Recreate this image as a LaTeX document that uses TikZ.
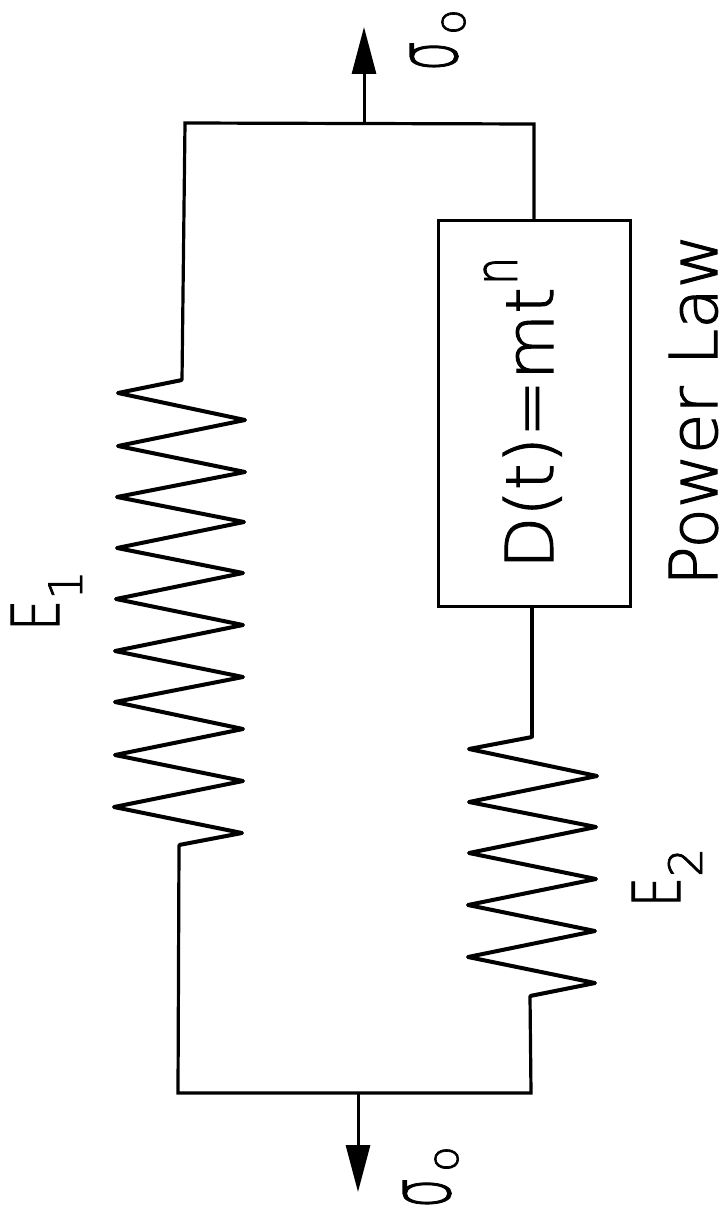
\documentclass[tikz,border=0pt]{standalone}
\usepackage{fontspec}
\setmainfont[FakeBold=1.6]{DejaVu Sans ExtraLight}
\usetikzlibrary{arrows.meta}
\tikzset{
  wire/.style={line width=3.2pt,line cap=round,line join=miter},
  coil/.style={line width=4pt,line join=round},
  load/.style={line width=3pt,-{Triangle[length=47pt,width=24pt]}},
  label/.style={rotate=90,anchor=base west,inner sep=0pt,outer sep=0pt,font=\fontsize{66}{66}\selectfont},
  stress/.style={rotate=90,anchor=base west,inner sep=0pt,outer sep=0pt,font=\fontsize{66}{66}\selectfont}
}
\newcommand{\sigmaO}[1]{\scalebox{0.72}[1.3]{σ}\hspace{6pt}\raisebox{#1}{\fontsize{42}{42}\selectfont o}}
\begin{document}
\begin{tikzpicture}[x=1pt,y=-1pt]
    \useasboundingbox (0,0) rectangle (726,1217);
    % frame
    \coordinate (tl) at (185,123);
    \coordinate (tr) at (534,124);
    \coordinate (bl) at (178,1093);
    \coordinate (br) at (531,1093);
    \coordinate (e1t) at (182,380);
    \coordinate (e1b) at (179,845);
    \coordinate (e2t) at (532,737);
    \coordinate (e2b) at (530,996);
    % box
    \node[draw,line width=3pt,minimum width=192pt,minimum height=386pt,inner sep=0pt] (box) at (534,413) {};
    \draw[wire] (e1t) -- (tl) -- (tr) -- (box.north -| tr);
    \draw[wire] (e2t) -- (box.south -| e2t);
    \draw[wire] (e1b) -- (bl) -- (br) -- (e2b);
    % springs
    \draw[coil] (e1t) -- (118,393) -- (245,420) -- (118,446) -- (245,472) -- (117,497)
      -- (244,522) -- (117,548) -- (243,573) -- (116,599) -- (243,625) -- (115,651)
      -- (243,677) -- (115,702) -- (243,729) -- (115,755) -- (243,781) -- (114,807)
      -- (242,833) -- (e1b);
    \draw[coil] (e2t) -- (469,749) -- (597,776) -- (469,802) -- (596,827) -- (469,853)
      -- (596,879) -- (468,905) -- (595,931) -- (468,957) -- (595,983) -- (e2b);
    % loads
    \coordinate (ttip) at (364,27);
    \coordinate (tbase) at (364,123);
    \coordinate (btip) at (358,1192);
    \coordinate (bbase) at (358,1093);
    \draw[load] (tbase) -- (ttip);
    \draw[load] (bbase) -- (btip);
    % labels
    \node[label] (law) at (553,569) {\scalebox{1.03}[1]{D(t)=mt}\hspace{2pt}\raisebox{36pt}{\scalebox{0.68}[0.9]{n}}};
    \node[label] (name) at (717,586) {Power Law};
    \node[label] (e1) at (59,631) {\scalebox{0.75}[1]{E}\raisebox{-23pt}{\fontsize{46}{46}\selectfont 1}};
    \node[label] (e2) at (680,907) {\scalebox{0.72}[1]{E}\raisebox{-22pt}{\fontsize{46}{46}\selectfont 2}};
    \node[stress] (s0) at (457,71) {\sigmaO{-8pt}};
    \node[stress] (s1) at (450,1208) {\sigmaO{-8pt}};
\end{tikzpicture}
\end{document}
